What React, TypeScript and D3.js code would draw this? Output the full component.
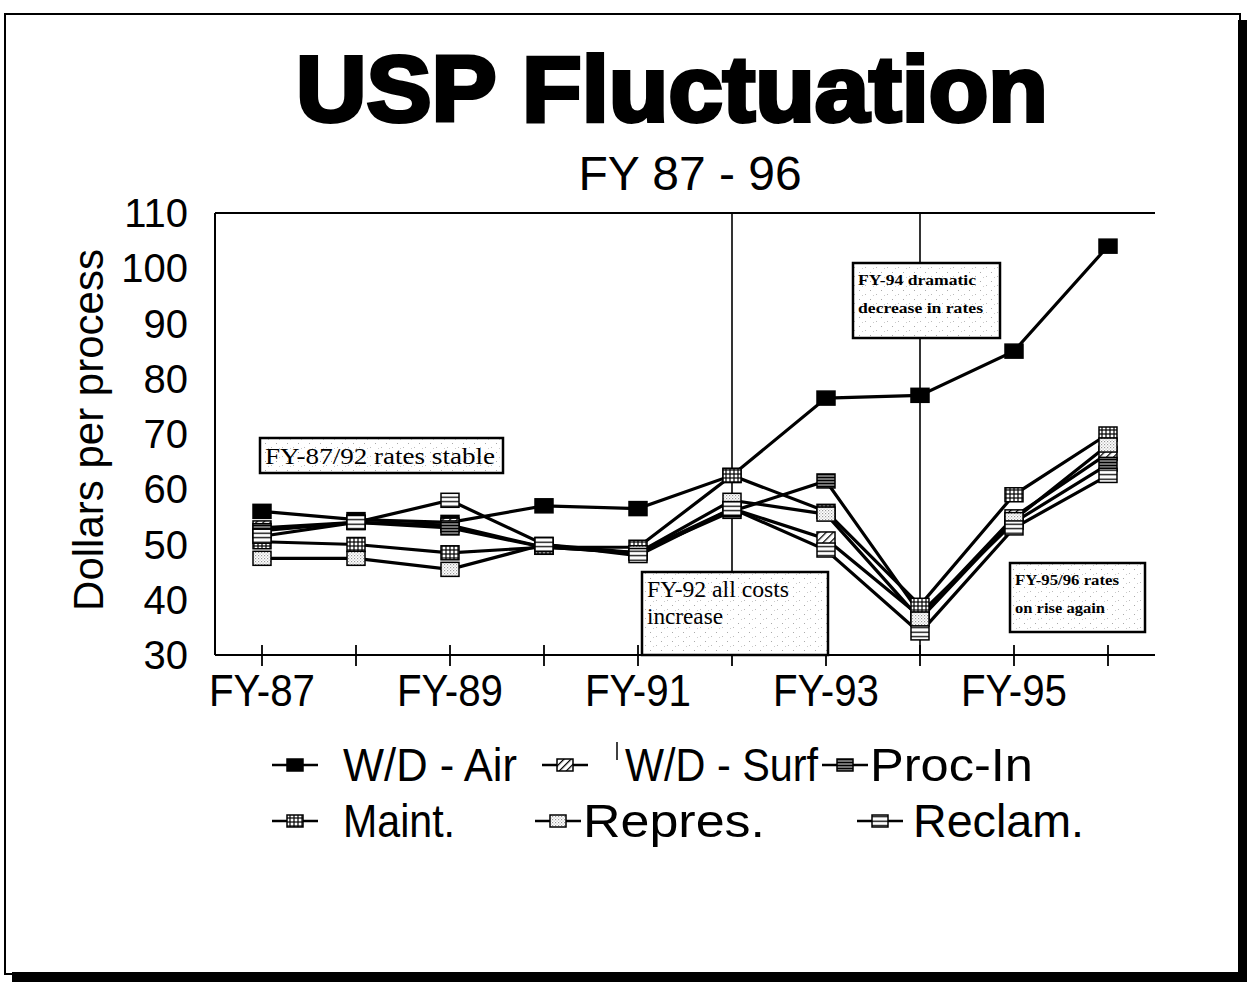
import React from "react";
import * as d3 from "d3";

const categories = ["FY-87", "FY-88", "FY-89", "FY-90", "FY-91", "FY-92", "FY-93", "FY-94", "FY-95", "FY-96"];
const tickLabels = ["FY-87", "", "FY-89", "", "FY-91", "", "FY-93", "", "FY-95", ""];
const yTicks = [30, 40, 50, 60, 70, 80, 90, 100, 110];

const wdAir = [56, 54.5, 54, 57, 56.5, 62.5, 76.5, 77, 85, 104];
const wdSurf = [53, 54, 53.5, 49.5, 48.5, 56.5, 51, 37, 55, 66.5];
const procIn = [52.5, 54, 53, 49.5, 48.5, 56, 61.5, 37.5, 54, 64.5];
const maint = [50.5, 50, 48.5, 49.5, 49.5, 62.5, 56, 39, 59, 70];
const repres = [47.5, 47.5, 45.5, 50, 48.5, 58, 55.5, 36.5, 54.5, 68];
const reclam = [51.5, 54, 58, 50, 48, 56.5, 49, 34, 53, 62.5];

const seriesNames = ["W/D - Air", "W/D - Surf", "Proc-In", "Maint.", "Repres.", "Reclam."];
const seriesValues = [wdAir, wdSurf, procIn, maint, repres, reclam];
const seriesFills = ["#000", "url(#hatch)", "url(#stripesDark)", "url(#grid)", "url(#dots)", "url(#stripesLight)"];

const annotations = [
  { lines: ["FY-87/92 rates stable"], x0: 260, y0: 438, x1: 503, y1: 473, fs: 23, bold: false, lens: [230], bases: [464] },
  { lines: ["FY-92 all costs", "increase"], x0: 642, y0: 572, x1: 828, y1: 655, fs: 24, bold: false, lens: [142, 76], bases: [597, 624] },
  { lines: ["FY-94 dramatic", "decrease in rates"], x0: 853, y0: 263, x1: 1000, y1: 338, fs: 15, bold: true, lens: [118, 125], bases: [285, 313] },
  { lines: ["FY-95/96 rates", "on rise again"], x0: 1010, y0: 563, x1: 1145, y1: 632, fs: 15, bold: true, lens: [104, 90], bases: [585, 613] },
];

const W = 1254, H = 992;
const plotL = 215, plotR = 1155, plotT = 213, plotB = 655;
const sans = "'Liberation Sans', Arial, sans-serif";

export default function App() {
  const x = d3.scaleBand<string>().domain(categories).range([plotL, plotR]).padding(0);
  const cx = (c: string) => (x(c) as number) + x.bandwidth() / 2;
  const y = d3.scaleLinear().domain([30, 110]).range([plotB, plotT]);
  const line = d3.line<number>().x((_, i) => cx(categories[i])).y((v) => y(v));

  const refLines = ["FY-92", "FY-94"];
  const mw = 18, mh = 14;

  const legendItems = [
    { i: 0, mx: 295, tx: 343, ty: 781, len: 174 },
    { i: 1, mx: 565, tx: 625, ty: 781, len: 193 },
    { i: 2, mx: 845, tx: 870, ty: 781, len: 163 },
    { i: 3, mx: 295, tx: 343, ty: 837, len: 112 },
    { i: 4, mx: 558, tx: 583, ty: 837, len: 182 },
    { i: 5, mx: 880, tx: 913, ty: 837, len: 171 },
  ];

  return (
    <svg width={W} height={H} style={{ position: "absolute", left: 0, top: 0, background: "#fff" }}>
      <defs>
        <pattern id="hatch" width="5" height="5" patternUnits="userSpaceOnUse" patternTransform="rotate(45)">
          <rect width="5" height="5" fill="#fff" />
          <line x1="0" y1="0" x2="0" y2="5" stroke="#000" strokeWidth="2.5" />
        </pattern>
        <pattern id="stripesDark" width="4" height="3" patternUnits="userSpaceOnUse">
          <rect width="4" height="3" fill="#444" />
          <line x1="0" y1="0.5" x2="4" y2="0.5" stroke="#000" strokeWidth="1.2" />
          <line x1="0" y1="2" x2="4" y2="2" stroke="#bbb" strokeWidth="0.8" />
        </pattern>
        <pattern id="stripesLight" width="4" height="4.5" patternUnits="userSpaceOnUse">
          <rect width="4" height="4.5" fill="#fff" />
          <line x1="0" y1="2.2" x2="4" y2="2.2" stroke="#000" strokeWidth="1.3" />
        </pattern>
        <pattern id="grid" width="4" height="4" patternUnits="userSpaceOnUse">
          <rect width="4" height="4" fill="#fff" />
          <line x1="2" y1="0" x2="2" y2="4" stroke="#000" strokeWidth="1.2" />
          <line x1="0" y1="2" x2="4" y2="2" stroke="#000" strokeWidth="1.2" />
        </pattern>
        <pattern id="dots" width="3" height="3" patternUnits="userSpaceOnUse">
          <rect width="3" height="3" fill="#fff" />
          <rect x="0" y="0" width="1.2" height="1.2" fill="#999" />
          <rect x="1.5" y="1.5" width="1.2" height="1.2" fill="#bbb" />
        </pattern>
        <pattern id="stipple" width="11" height="9" patternUnits="userSpaceOnUse">
          <rect width="11" height="9" fill="#fff" />
          <rect x="1" y="2" width="1" height="1" fill="#aaa" />
          <rect x="7" y="6" width="1" height="1" fill="#bbb" />
          <rect x="4" y="7" width="1" height="1" fill="#ccc" />
        </pattern>
      </defs>

      {/* frame with shadow */}
      <rect x={1238} y={20} width={9} height={962} fill="#000" />
      <rect x={12} y={972} width={1235} height={10} fill="#000" />
      <rect x={5} y={14} width={1235} height={960} fill="none" stroke="#000" strokeWidth={2} />

      {/* title */}
      <text x={672} y={121} textAnchor="middle" fontFamily={sans} fontWeight={900}
        fontSize={92} textLength={752} lengthAdjust="spacingAndGlyphs" stroke="#000" strokeWidth={4}>USP Fluctuation</text>
      <text x={690} y={190} textAnchor="middle" fontFamily={sans} fontSize={48}>FY 87 - 96</text>

      {/* y label */}
      <text transform={`translate(103, 430) rotate(-90)`} textAnchor="middle"
        fontFamily={sans} fontSize={42}>Dollars per process</text>

      {/* y tick labels */}
      {yTicks.map((t) => (
        <text key={t} x={188} y={y(t) + 14} textAnchor="end" fontFamily={sans} fontSize={40}>{t}</text>
      ))}

      {/* axes frame */}
      <line x1={plotL} y1={plotT} x2={plotR} y2={plotT} stroke="#000" strokeWidth={2} />
      <line x1={plotL} y1={plotT} x2={plotL} y2={plotB} stroke="#000" strokeWidth={2} />
      <line x1={plotL} y1={plotB} x2={plotR} y2={plotB} stroke="#000" strokeWidth={2} />
      {categories.map((c) => (
        <line key={c} x1={cx(c)} y1={plotB - 10} x2={cx(c)} y2={plotB + 11} stroke="#000" strokeWidth={1.8} />
      ))}
      {categories.map((c, i) => tickLabels[i] ? (
        <text key={c} x={cx(c)} y={706} textAnchor="middle" fontFamily={sans} fontSize={45}
          textLength={106} lengthAdjust="spacingAndGlyphs">{tickLabels[i]}</text>
      ) : null)}

      {/* reference lines */}
      {refLines.map((c) => (
        <line key={c} x1={cx(c)} y1={plotT} x2={cx(c)} y2={plotB} stroke="#000" strokeWidth={1.6} />
      ))}

      {/* series lines */}
      {seriesValues.map((vals, si) => (
        <path key={si} d={line(vals) || ""} fill="none" stroke="#000" strokeWidth={3.2} />
      ))}
      {/* markers */}
      {seriesValues.map((vals, si) => (
        <g key={si}>
          {vals.map((v, i) => (
            <rect key={i} x={cx(categories[i]) - mw / 2} y={y(v) - mh / 2} width={mw} height={mh}
              fill={seriesFills[si]} stroke="#000" strokeWidth={1.5} />
          ))}
        </g>
      ))}

      {/* annotations */}
      {annotations.map((a, k) => (
        <g key={k}>
          <rect x={a.x0} y={a.y0} width={a.x1 - a.x0} height={a.y1 - a.y0} fill="url(#stipple)" stroke="#000" strokeWidth={2.5} />
          {a.lines.map((l, j) => (
            <text key={j} x={a.x0 + 5} y={a.bases[j]} textLength={a.lens[j]} lengthAdjust="spacingAndGlyphs"
              fontFamily="'Liberation Serif', 'Times New Roman', serif" fontSize={a.fs} fontWeight={a.bold ? 700 : 400}>{l}</text>
          ))}
        </g>
      ))}

      {/* legend */}
      {legendItems.map((it) => (
        <g key={it.i}>
          <line x1={it.mx - 23} y1={it.ty - 16} x2={it.mx + 23} y2={it.ty - 16} stroke="#000" strokeWidth={2.5} />
          <rect x={it.mx - 8} y={it.ty - 22} width={16} height={12} fill={seriesFills[it.i]} stroke="#000" strokeWidth={1.5} />
          <text x={it.tx} y={it.ty} fontFamily={sans} fontSize={46} textLength={it.len} lengthAdjust="spacingAndGlyphs">{seriesNames[it.i]}</text>
        </g>
      ))}
      <line x1={617} y1={742} x2={617} y2={760} stroke="#000" strokeWidth={1.5} />
    </svg>
  );
}
